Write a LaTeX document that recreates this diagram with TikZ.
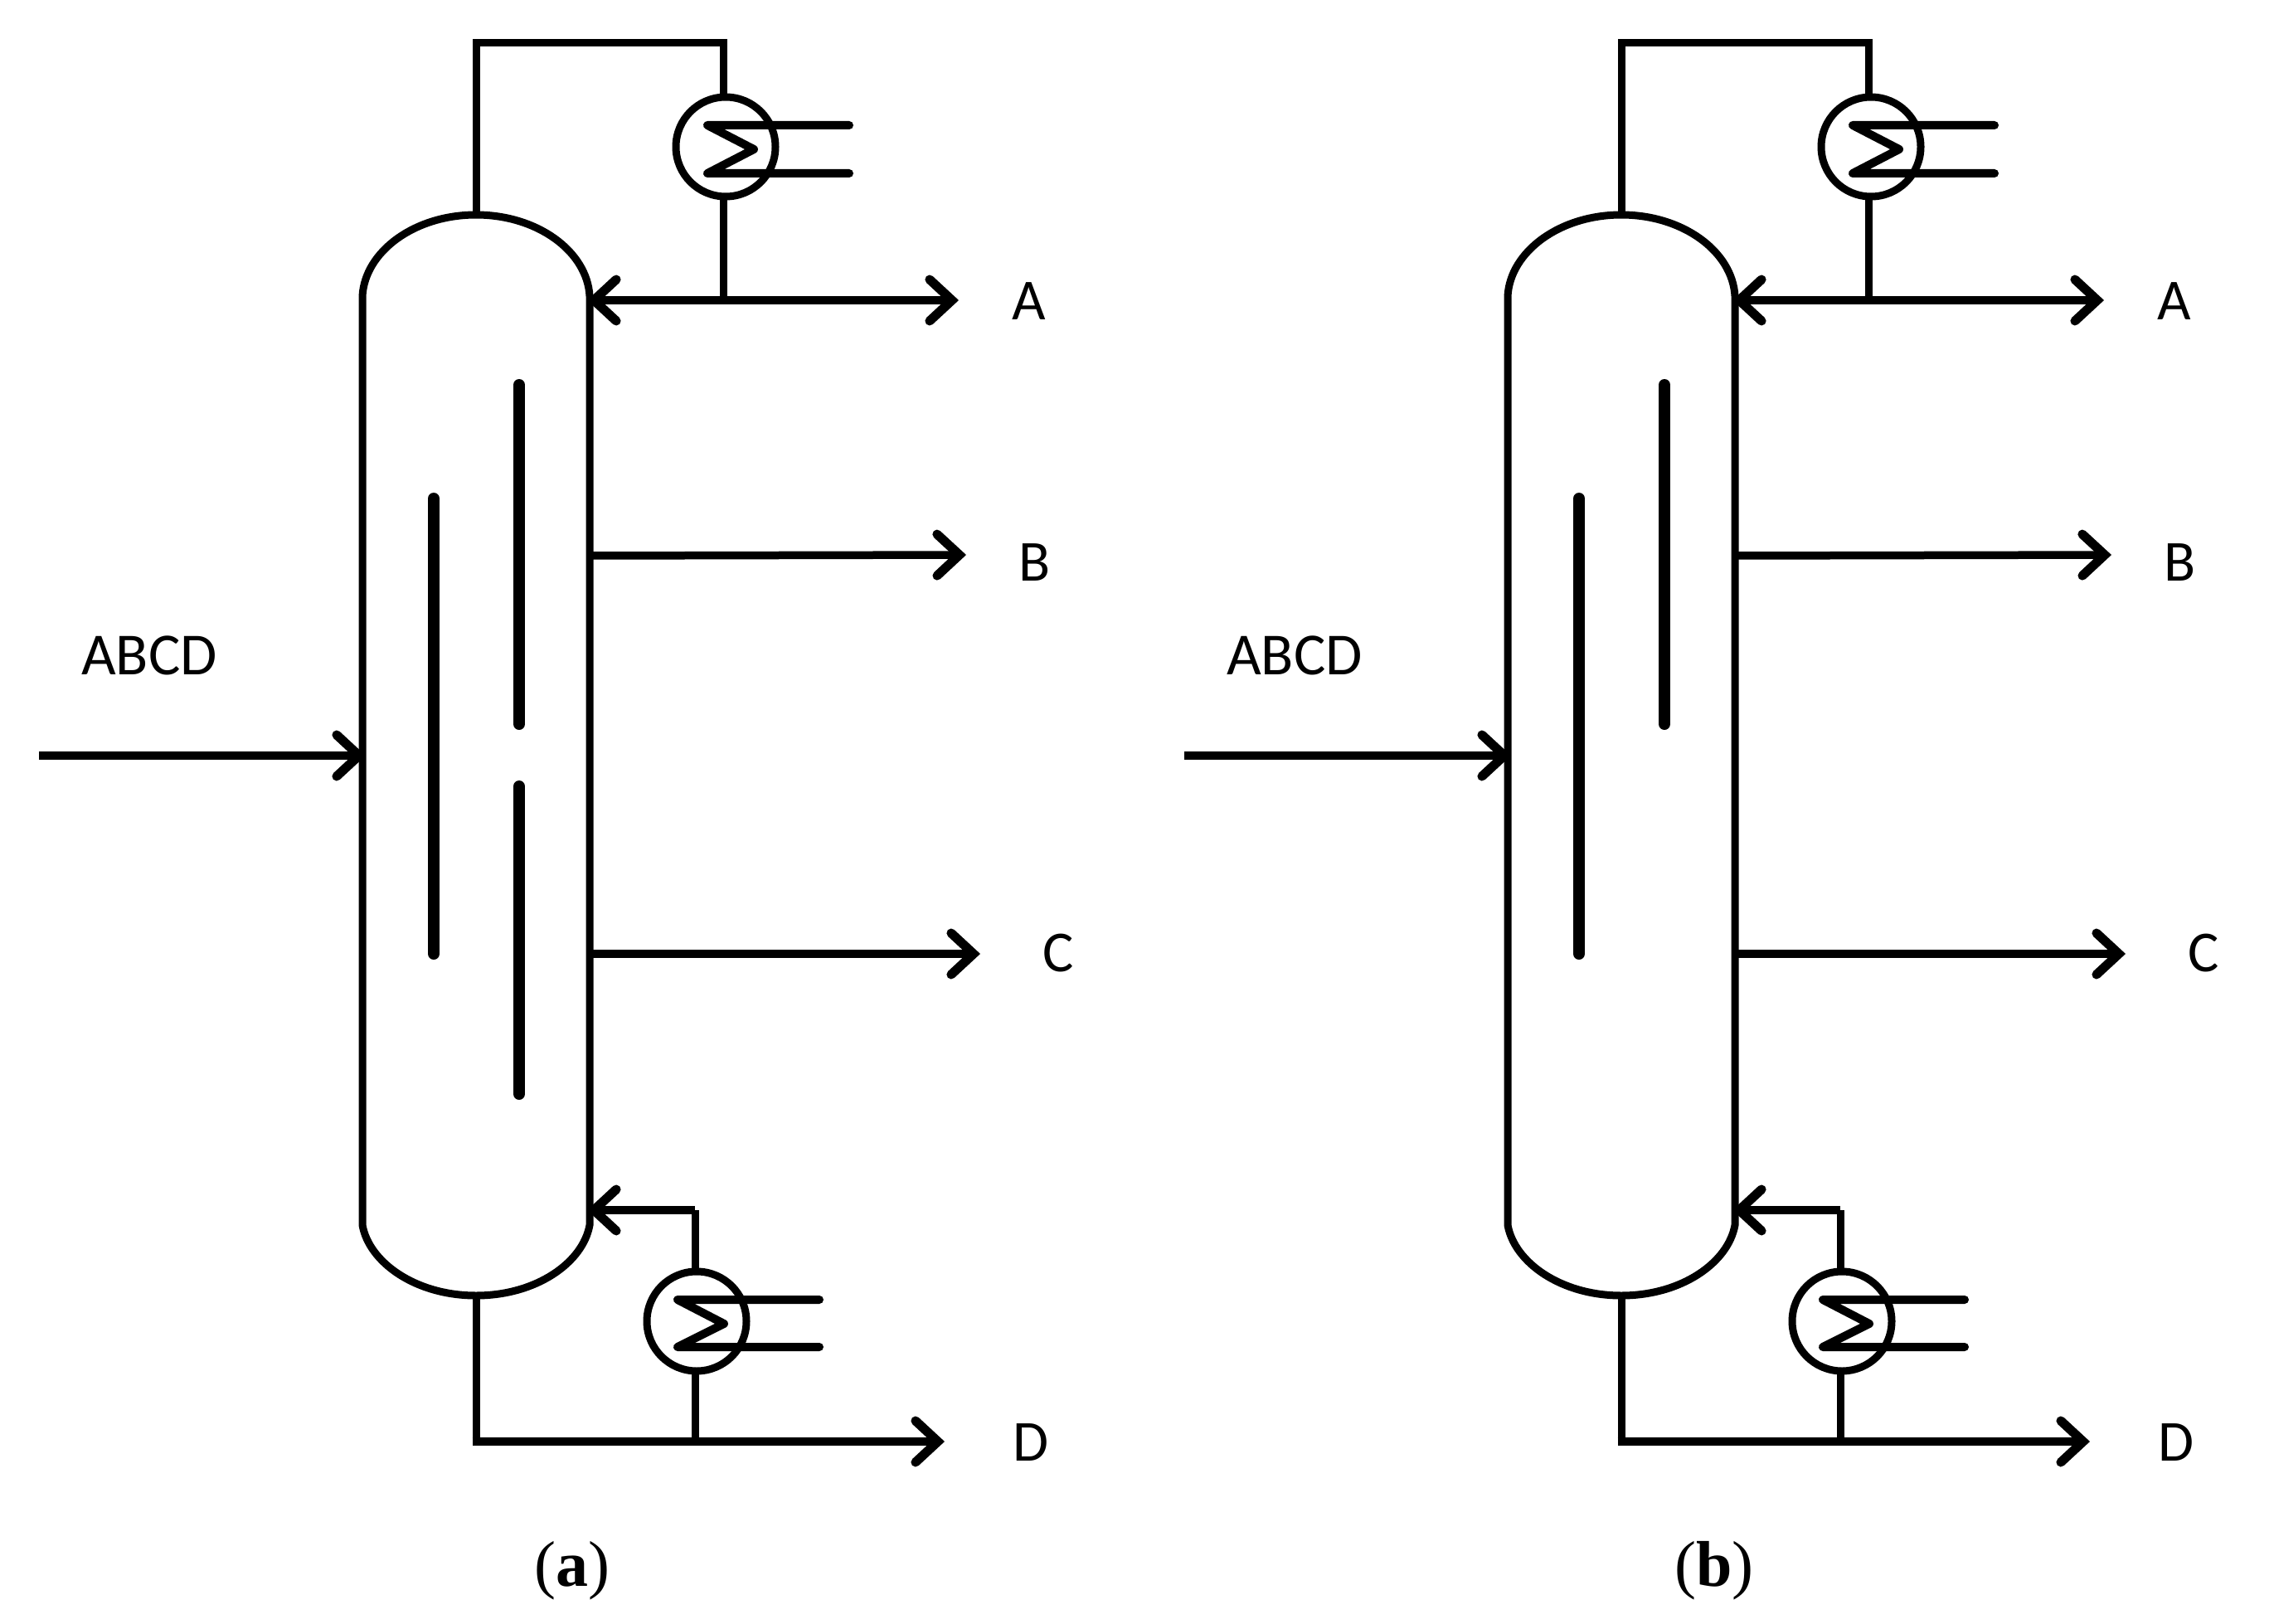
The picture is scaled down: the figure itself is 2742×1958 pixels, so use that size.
\documentclass[tikz,border=0pt]{standalone}
\usepackage{fontspec}
\setmainfont{Carlito}
\newfontfamily\capserif{Liberation Serif}
\usetikzlibrary{arrows.meta}
\tikzset{
  barb/.tip={Straight Barb[length=27pt,width=50pt,line cap=round,line join=miter,line width=11pt]},
  pipe/.style={line width=9pt,line join=miter,line cap=butt},
  flow/.style={pipe,line width=9.5pt,-barb},
  wall/.style={line width=9pt},
  coil/.style={line width=10pt,line cap=round,line join=round},
  bar/.style={line width=14pt,line cap=round},
  exch/.style={circle,draw,line width=9pt,minimum size=120pt,inner sep=0pt,outer sep=0pt},
  lab/.style={anchor=base,inner sep=0pt,outer sep=0pt,font=\fontsize{70}{84}\selectfont},
  subcap/.style={anchor=base,inner sep=0pt,outer sep=0pt,font=\capserif\fontsize{78}{94}\selectfont}
}
\newcommand{\towerunit}[3]{%
\begin{scope}[xshift=#1pt]
  % tower shell
  \draw[wall] (437,-357) .. controls (440,-303) and (500,-259) .. (574,-259)
     .. controls (648,-259) and (708,-303) .. (711,-357) -- (711,-1477)
     .. controls (703,-1522) and (647,-1562) .. (574,-1562)
     .. controls (501,-1562) and (445,-1522) .. (437,-1477) -- cycle;
  % internal walls
  #3
  % named points
  \coordinate (#2top) at (574,-259);
  \coordinate (#2bot) at (574,-1562);
  \coordinate (#2c1) at (574,-52);
  \coordinate (#2c2) at (872,-52);
  \coordinate (#2wA) at (708,-362);
  \coordinate (#2eA) at (1156,-362);
  \coordinate (#2wB) at (711,-670);
  \coordinate (#2eB) at (1165,-669);
  \coordinate (#2wC) at (711,-1150);
  \coordinate (#2eC) at (1182,-1150);
  \coordinate (#2wR) at (708,-1459);
  \coordinate (#2r1) at (838,-1459);
  \coordinate (#2d0) at (574,-1738);
  \coordinate (#2eD) at (1139,-1738);
  \coordinate (#2feed) at (47,-911);
  \coordinate (#2wF) at (441,-911);
  % exchangers
  \node[exch] (#2cond) at (875,-177) {};
  \node[exch] (#2reb) at (840,-1593) {};
  \coordinate (#2ca) at (1024,-151);
  \coordinate (#2cb) at (853,-151);
  \coordinate (#2cc) at (909,-180);
  \coordinate (#2cd) at (853,-209);
  \coordinate (#2ce) at (1024,-209);
  \coordinate (#2ra) at (988,-1567);
  \coordinate (#2rb) at (817,-1567);
  \coordinate (#2rc) at (873,-1596);
  \coordinate (#2rd) at (817,-1624);
  \coordinate (#2re) at (988,-1624);
  \draw[coil] (#2ca) -- (#2cb) -- (#2cc) -- (#2cd) -- (#2ce);
  \draw[coil] (#2ra) -- (#2rb) -- (#2rc) -- (#2rd) -- (#2re);
  % piping
  \draw[pipe] (#2top) -- (#2c1) -- (#2c2) -- (#2c2 |- #2cond.north);
  \draw[pipe] (#2c2 |- #2cond.south) -- (#2c2 |- #2wA);
  \draw[flow,barb-barb] (#2wA) -- (#2eA);
  \draw[flow] (#2wB) -- (#2eB);
  \draw[flow] (#2wC) -- (#2eC);
  \draw[pipe] (#2r1 |- #2reb.north) -- (#2r1);
  \draw[flow] (#2r1) -- (#2wR);
  \draw[pipe] (#2r1 |- #2reb.south) -- (#2r1 |- #2d0);
  \draw[pipe] (#2bot) -- (#2d0);
  \draw[flow] (#2d0) ++(-4.5,0) -- (#2eD);
  \draw[flow] (#2feed) -- (#2wF);
  % labels
  \node[lab] (#2lA) at (1241,-386) {A};
  \node[lab] (#2lB) at (1248,-700) {B};
  \node[lab] (#2lC) at (1276,-1171) {C};
  \node[lab] (#2lD) at (1243,-1761) {D};
  \node[lab,font=\fontsize{72}{86}\selectfont] (#2lF) at (180,-813) {ABCD};
\end{scope}}
\begin{document}
\begin{tikzpicture}[x=1pt,y=1pt]
\useasboundingbox (0,0) rectangle (2742,-1958);
\towerunit{0}{a}{
  \draw[bar] (523,-601) -- (523,-1150);
  \draw[bar] (626,-464) -- (626,-873);
  \draw[bar] (626,-948) -- (626,-1319);
}
\towerunit{1381}{b}{
  \draw[bar] (523,-601) -- (523,-1150);
  \draw[bar] (626,-464) -- (626,-873);
}
\node[subcap] (capa) at (689.5,-1912) {(\textbf{a})};
\node[subcap] (capb) at (2067,-1912) {(\textbf{b})};
\end{tikzpicture}
\end{document}
